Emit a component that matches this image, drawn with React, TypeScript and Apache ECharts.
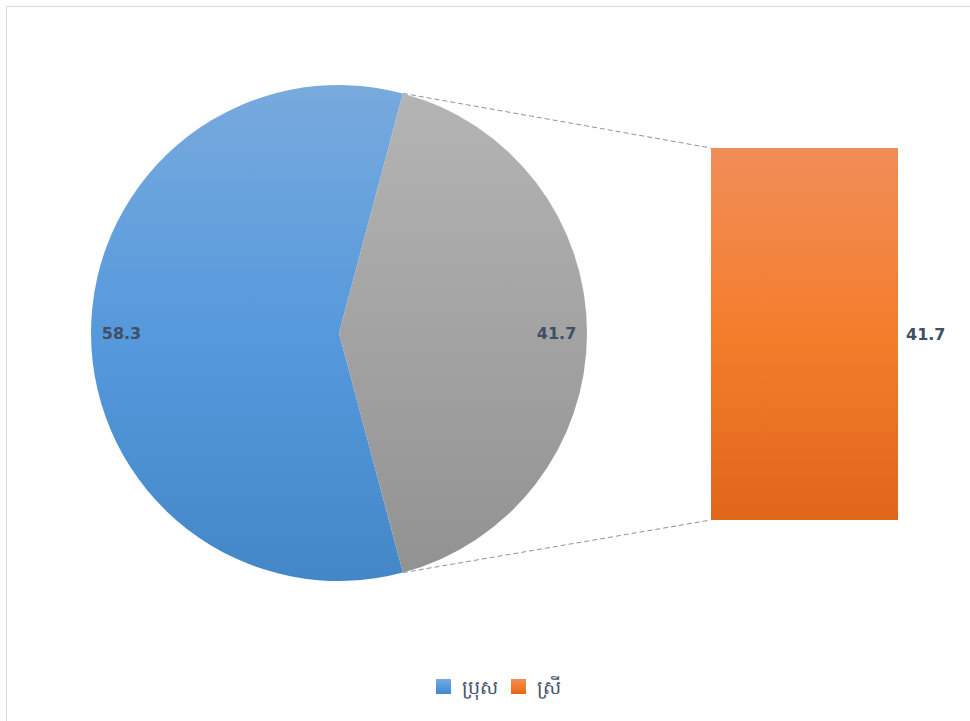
import React, { useEffect, useRef } from "react";
import * as echarts from "echarts";

const pieNames = ["ប្រុស", "ស្រី"];
const pieValues = [58.3, 41.7];
const barCategories = ["ស្រី"];
const barValues = [41.7];
const legendNames = ["ប្រុស", "ស្រី"];

const W = 970;
const H = 721;
const CX = 339;
const CY = 333;
const R = 248;
const GRID_LEFT = 711;
const GRID_RIGHT = 72;
const GRID_TOP = 148;
const GRID_BOTTOM = 201;

const labelColor = "#404f66";
const blueGrad = new echarts.graphic.LinearGradient(0, 0, 0, 1, [
  { offset: 0, color: "#78aadd" },
  { offset: 0.5, color: "#5699dc" },
  { offset: 1, color: "#4387c9" },
]);
const grayGrad = new echarts.graphic.LinearGradient(0, 0, 0, 1, [
  { offset: 0, color: "#b4b4b4" },
  { offset: 1, color: "#929292" },
]);
const orangeGrad = new echarts.graphic.LinearGradient(0, 0, 0, 1, [
  { offset: 0, color: "#f08d58" },
  { offset: 0.5, color: "#f47d2c" },
  { offset: 1, color: "#e0661a" },
]);

export default function App() {
  const ref = useRef<HTMLDivElement>(null);
  useEffect(() => {
    if (!ref.current) return;
    const chart = echarts.init(ref.current, null, { renderer: "svg" });
    const total = pieValues.reduce((a, b) => a + b, 0);
    const half = (pieValues[1] / total) * 360 / 2;
    const startAngle = -half;
    const rad = (half * Math.PI) / 180;
    const topPt = [CX + R * Math.cos(rad), CY - R * Math.sin(rad)];
    const botPt = [CX + R * Math.cos(rad), CY + R * Math.sin(rad)];
    const barTop = GRID_TOP;
    const barBot = H - GRID_BOTTOM;
    const pieData = pieNames.map((n, i) => ({
      name: n,
      value: pieValues[i],
      itemStyle: { color: i === 0 ? blueGrad : grayGrad },
    }));
    const labelStyle = {
      fontFamily: "DejaVu Sans",
      fontWeight: "bold" as const,
      fontSize: 16,
      color: labelColor,
    };
    chart.setOption({
      animation: false,
      legend: {
        data: [
          { name: legendNames[0], itemStyle: { color: blueGrad } },
          { name: legendNames[1], itemStyle: { color: orangeGrad } },
        ],
        bottom: 20,
        left: 431,
        itemWidth: 15,
        itemHeight: 15,
        itemGap: 13,
        icon: "rect",
        textStyle: {
          fontSize: 19,
          color: "#44546a",
          fontFamily: "Noto Sans",
          padding: [0, 0, 0, 6],
        },
        selectedMode: false,
      },
      grid: {
        left: GRID_LEFT,
        right: GRID_RIGHT,
        top: GRID_TOP,
        bottom: GRID_BOTTOM,
      },
      xAxis: { type: "category", data: barCategories, show: false },
      yAxis: { type: "value", min: 0, max: barValues[0], show: false },
      series: [
        {
          type: "pie",
          center: [CX, CY],
          radius: [0, R],
          startAngle,
          clockwise: true,
          data: pieData,
          label: { show: false },
          labelLine: { show: false },
          silent: true,
        },
        {
          type: "pie",
          center: [CX, CY],
          radius: [R * 0.74, R * 0.99],
          startAngle,
          clockwise: true,
          data: pieNames.map((n, i) => ({
            name: n + " ",
            value: pieValues[i],
            itemStyle: { color: "rgba(0,0,0,0)" },
          })),
          label: { show: true, position: "inside", formatter: "{c}", ...labelStyle },
          labelLine: { show: false },
          silent: true,
        },
        {
          type: "bar",
          name: barCategories[0],
          data: barValues,
          barWidth: "100%",
          itemStyle: { color: orangeGrad },
          label: { show: true, position: "right", distance: 8, ...labelStyle },
          silent: true,
        },
      ],
      graphic: [
        {
          type: "rect",
          shape: { x: 6.5, y: 6.5, width: W + 20, height: H + 20 },
          style: { fill: "none", stroke: "#d9d9d9", lineWidth: 1 },
          silent: true,
        },
        {
          type: "line",
          shape: { x1: topPt[0], y1: topPt[1], x2: GRID_LEFT, y2: barTop },
          style: { stroke: "#8395b2", lineWidth: 1, lineDash: [5, 3] },
          silent: true,
        },
        {
          type: "line",
          shape: { x1: botPt[0], y1: botPt[1], x2: GRID_LEFT, y2: barBot },
          style: { stroke: "#8395b2", lineWidth: 1, lineDash: [5, 3] },
          silent: true,
        },
      ],
    });
    return () => chart.dispose();
  }, []);
  return (
    <div
      ref={ref}
      style={{ position: "fixed", left: 0, top: 0, width: W, height: H, background: "#fff" }}
    />
  );
}
